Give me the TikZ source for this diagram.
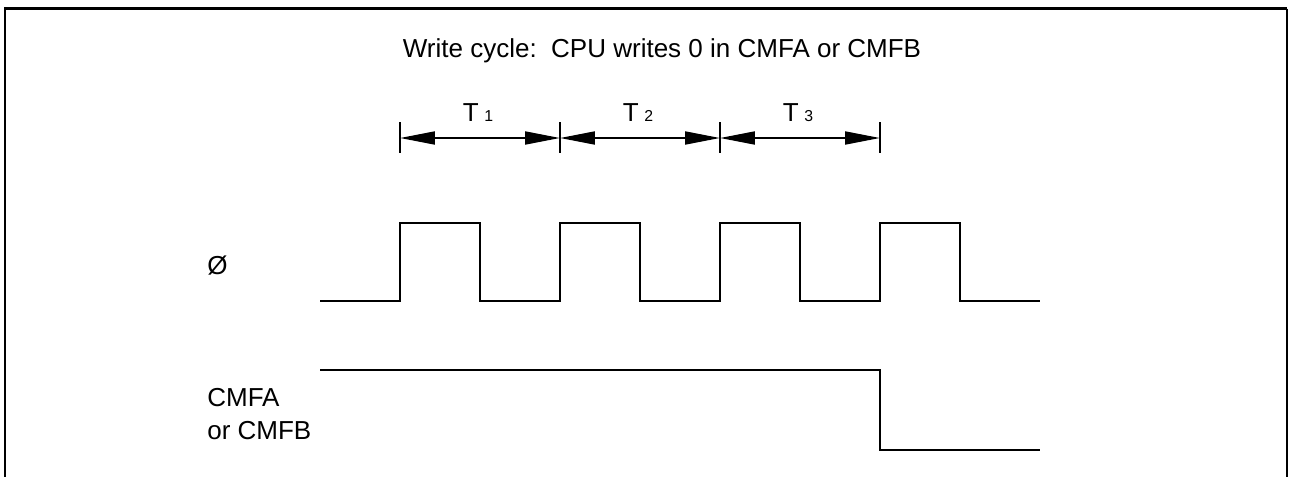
\documentclass[tikz,border=0pt]{standalone}
\usepackage{fontspec}
\setmainfont{Liberation Sans}
\usepackage{tikz}
\usetikzlibrary{arrows.meta,positioning}
\tikzstyle{frameline} = [line width=1.4pt]
\tikzstyle{signal} = [line width=1.4pt]
\tikzstyle{tickmark} = [line width=1.1pt]
\tikzstyle{span} = [line width=1.1pt,{Triangle[length=0.7cm,width=0.26cm]}-{Triangle[length=0.7cm,width=0.26cm]}]
\tikzstyle{lbl} = [font=\fontsize{14.8pt}{18.8pt}\selectfont, inner sep=0pt]
\newcommand{\tsub}[1]{T\hspace{0.22em}{\fontsize{9pt}{10pt}\selectfont #1}}

\begin{document}
\begin{tikzpicture}[x=0.02cm, y=-0.02cm]

\useasboundingbox (0,0) rectangle (1289,477);

% Frame (open at the bottom)
\draw[frameline] (5,477) -- (5,8.5) -- (1287,8.5);
\draw[line width=0.8pt] (1287,8.5) -- (1287,477);

% Title
\node[lbl, anchor=base] (title) at (662,57) {Write cycle:\ \ CPU writes 0 in CMFA or CMFB};

% Period marks
\coordinate (tk1) at (400,138);
\coordinate (tk2) at (560,138);
\coordinate (tk3) at (720,138);
\coordinate (tk4) at (880,138);
\draw[tickmark] (400,122) -- (400,153);
\draw[tickmark] (560,122) -- (560,153);
\draw[tickmark] (720,122) -- (720,153);
\draw[tickmark] (880,122) -- (880,153);

% Period arrows
\draw[span] (tk1) -- (tk2);
\draw[span] (tk2) -- (tk3);
\draw[span] (tk3) -- (tk4);

% Period labels
\node[lbl, anchor=base] (t1) at (478,121) {\tsub{1}};
\node[lbl, anchor=base] (t2) at (638,121) {\tsub{2}};
\node[lbl, anchor=base] (t3) at (798,121) {\tsub{3}};

% Signal names
\node[lbl, anchor=west] (phi) at (207,266) {Ø};
\node[lbl, anchor=north west, align=left] (cmf) at (207,388) {CMFA\\or CMFB};

% Clock
\draw[signal] (320,301)
  \foreach \x in {400,560,720,880} { -- (\x,301) -- (\x,223) -- (\x+80,223) -- (\x+80,301) }
  -- (1040,301);

% CMFA / CMFB
\draw[signal] (320,370) -- (880,370) -- (880,450) -- (1040,450);

\end{tikzpicture}
\end{document}
